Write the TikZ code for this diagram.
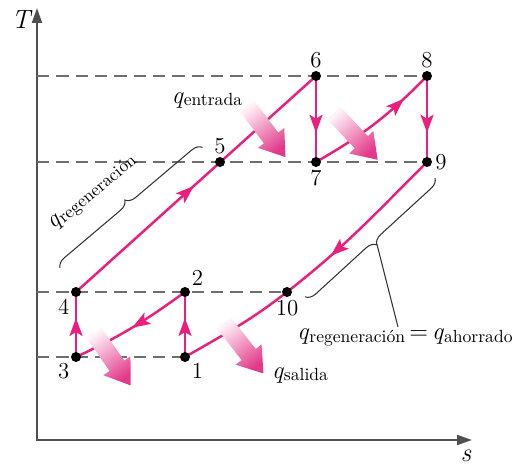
\documentclass[tikz,border=0pt]{standalone}
\usepackage{fontspec}
\usetikzlibrary{arrows.meta, positioning, decorations.markings, decorations.pathreplacing}

\definecolor{cyclepink}{RGB}{233,30,125}
\definecolor{heatdeep}{RGB}{226,58,138}
\definecolor{heatlight}{RGB}{255,242,248}
\definecolor{axisgray}{RGB}{80,80,80}
\definecolor{dashgray}{RGB}{110,110,110}

% q with a text subscript
\newcommand{\qsub}[1]{{\fontsize{14}{16}\selectfont\textit{q}}\raisebox{-0.3ex}{\fontsize{10}{12}\selectfont #1}}

% fading heat arrow: #1 tail, #2 direction, #3 shading angle
\newcommand{\heatarrow}[3]{%
  \begin{scope}[shift={#1}, rotate=#2]
    \shade[bottom color=heatlight, top color=heatdeep, shading angle=#3]
      (0,-0.18) -- (0.8,-0.18) -- (0.8,-0.33) -- (1.28,0) -- (0.8,0.33) -- (0.8,0.18) -- (0,0.18) -- cycle;
  \end{scope}}

\begin{document}
\begin{tikzpicture}[
    statept/.style={circle, fill=black, inner sep=0pt, minimum size=0.2cm},
    every label/.append style={font=\fontsize{13}{15}\selectfont, inner sep=1.5pt},
    process/.style={draw=cyclepink, line width=1.4pt},
    midarrow/.style={postaction={decorate, decoration={markings,
        mark=at position #1 with {\arrow{Stealth[length=3.6mm,width=2.6mm,inset=0.8mm]}}}}},
    isotherm/.style={draw=dashgray, line width=1.1pt, dash pattern=on 7pt off 4pt},
    bracestyle/.style={draw=black!80, line width=0.6pt, decorate, decoration={brace, amplitude=0.2cm}},
  ]
  \useasboundingbox (0,0) rectangle (10.4,9.36);

  % Axes
  \coordinate (O) at (0.74,0.56);
  \coordinate (Ttop) at (0.74,9.2);
  \coordinate (sEnd) at (9.44,0.56);
  \draw[axisgray, line width=1.1pt, {Triangle[length=3mm,width=2mm]}-{Triangle[length=3mm,width=2mm]}] (Ttop) |- (sEnd);
  \node[font=\fontsize{15}{17}\selectfont] (Tlab) at (0.44,8.96) {\textit{T}};
  \node[font=\fontsize{15}{17}\selectfont] (slab) at (9.32,0.24) {\textit{s}};

  % State points
  \coordinate (p1) at (3.70,2.22);
  \coordinate (p2) at (3.70,3.52);
  \coordinate (p3) at (1.52,2.22);
  \coordinate (p4) at (1.52,3.52);
  \coordinate (p5) at (4.40,6.12);
  \coordinate (p6) at (6.32,7.84);
  \coordinate (p7) at (6.32,6.12);
  \coordinate (p8) at (8.54,7.84);
  \coordinate (p9) at (8.54,6.12);
  \coordinate (p10) at (5.74,3.52);

  % Dashed temperature levels
  \draw[isotherm] (O |- p8) -- (p8);
  \draw[isotherm] (O |- p9) -- (p9);
  \draw[isotherm] (O |- p10) -- (p10);
  \draw[isotherm] (O |- p1) -- (p1);

  % Cycle
  \draw[process, midarrow=0.49] (p4) -- (p6);
  \draw[process, midarrow=0.66] (p6) -- (p7);
  \draw[process, midarrow=0.77] (p7) to[bend right=8] (p8);
  \draw[process, midarrow=0.66] (p8) -- (p9);
  \draw[process, midarrow=0.43] (p9) to[out=225,in=38] (p10) to[out=218,in=30] (p1);
  \draw[process, midarrow=0.6] (p1) -- (p2);
  \draw[process, midarrow=0.5] (p2) to[out=216,in=25] (p3);
  \draw[process, midarrow=0.6] (p3) -- (p4);

  % Heat arrows
  \heatarrow{(4.94,7.24)}{-53}{-143}
  \heatarrow{(6.68,7.10)}{-47}{-137}
  \heatarrow{(1.88,2.70)}{-55}{-145}
  \heatarrow{(4.48,2.90)}{-52}{-142}

  % Dots and numbers
  \node[statept, label=below right:1] (d1) at (p1) {};
  \node[statept, label=above right:2] (d2) at (p2) {};
  \node[statept, label=below left:3] (d3) at (p3) {};
  \node[statept, label=below left:4] (d4) at (p4) {};
  \node[statept, label=above:5] (d5) at (p5) {};
  \node[statept, label=above:6] (d6) at (p6) {};
  \node[statept, label=below:7] (d7) at (p7) {};
  \node[statept, label=above:8] (d8) at (p8) {};
  \node[statept, label=right:9] (d9) at (p9) {};
  \node[statept, label=below:10] (d10) at (p10) {};

  % Heat labels
  \node (qin) at (4.14,7.36) {\qsub{entrada}};
  \node (qout) at (6.0,1.86) {\qsub{salida}};

  % Regeneration braces
  \coordinate (lb1) at (1.20,4.00);
  \coordinate (lb2) at (4.06,6.42);
  \draw[bracestyle] (lb1) -- (lb2);
  \node[rotate=40, inner sep=1pt] (qregl) at (1.86,5.50) {\qsub{regeneración}};

  \coordinate (rb1) at (8.70,5.80);
  \coordinate (rb2) at (6.10,3.42);
  \draw[bracestyle] (rb1) -- (rb2);
  \coordinate (btip) at (7.54,4.47);
  \coordinate (lineend) at (7.96,2.82);
  \draw[black!80, line width=0.6pt] (btip) -- (lineend);
  \node[font=\fontsize{14}{16}\selectfont, inner sep=1pt] (qreg) at (8.10,2.62) {\qsub{regeneración}\,=\,\qsub{ahorrado}};
\end{tikzpicture}
\end{document}
